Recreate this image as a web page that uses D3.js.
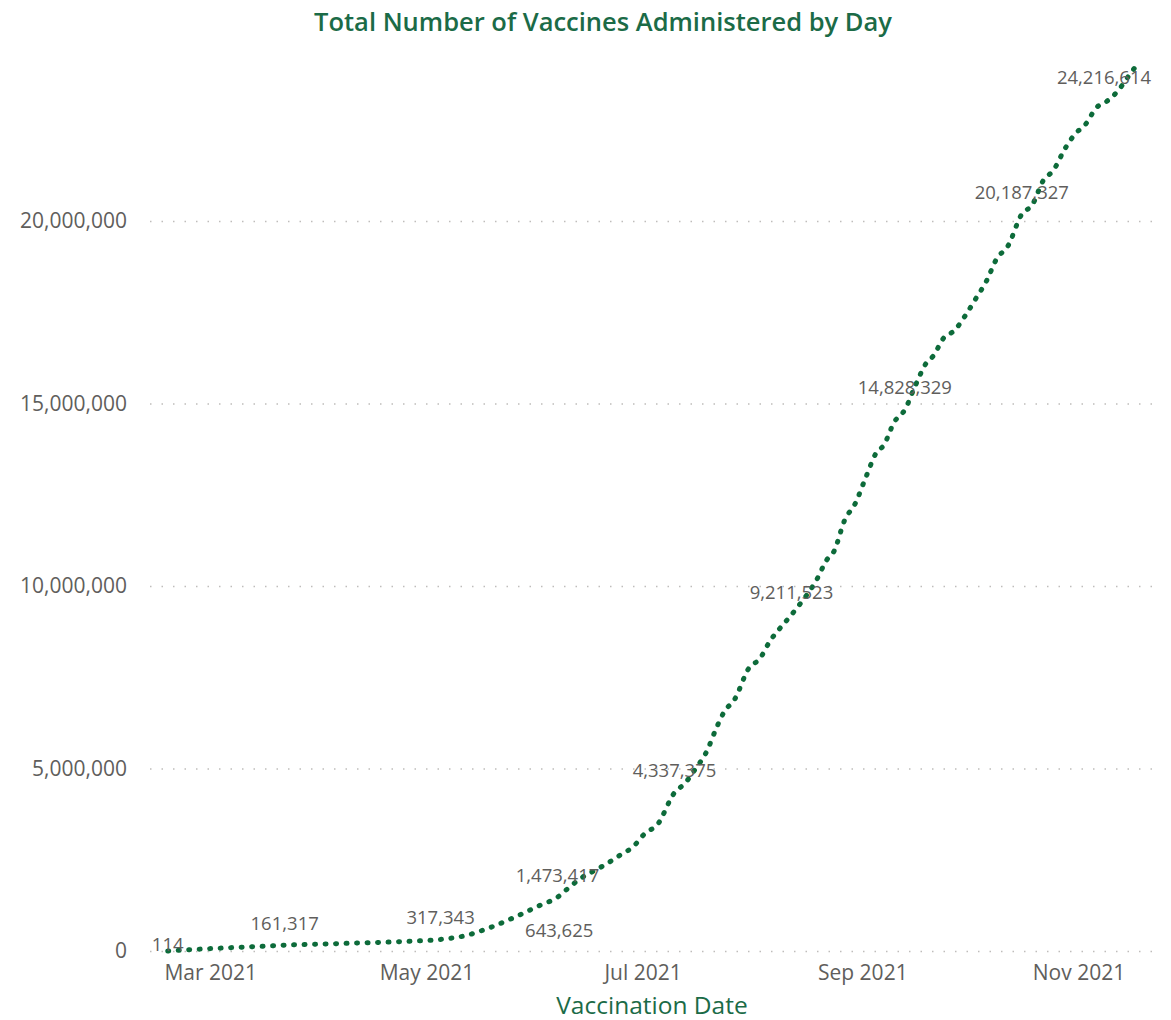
<!DOCTYPE html>
<html>
<head>
<meta charset="utf-8">
<script src="https://cdn.jsdelivr.net/npm/d3@7"></script>
<style>
  body { margin: 0; background: #fff; }
  text { font-family: "Segoe UI", "Open Sans", sans-serif; }
</style>
</head>
<body>
<svg id="chart" width="1171" height="1020"></svg>
<script>
// Cumulative vaccines
const dates = [
  "2021-02-17", "2021-02-24", "2021-03-03", "2021-03-10", "2021-03-17", "2021-03-22",
  "2021-03-29", "2021-04-05", "2021-04-12", "2021-04-19", "2021-04-26", "2021-05-05",
  "2021-05-12", "2021-05-19", "2021-05-26", "2021-06-02", "2021-06-07", "2021-06-10",
  "2021-06-14", "2021-06-18", "2021-06-21", "2021-06-25", "2021-06-28", "2021-07-02",
  "2021-07-05", "2021-07-10", "2021-07-13", "2021-07-16", "2021-07-19", "2021-07-22",
  "2021-07-24", "2021-07-27", "2021-07-31", "2021-08-03", "2021-08-06", "2021-08-09",
  "2021-08-12", "2021-08-15", "2021-08-19", "2021-08-22", "2021-08-24", "2021-08-27",
  "2021-08-30", "2021-09-02", "2021-09-05", "2021-09-07", "2021-09-10", "2021-09-13",
  "2021-09-16", "2021-09-19", "2021-09-21", "2021-09-24", "2021-09-27", "2021-09-30",
  "2021-10-03", "2021-10-06", "2021-10-09", "2021-10-12", "2021-10-16", "2021-10-19",
  "2021-10-22", "2021-10-25", "2021-10-28", "2021-10-31", "2021-11-03", "2021-11-06",
  "2021-11-09", "2021-11-12", "2021-11-15", "2021-11-17"
];
const totals = [
  114, 40000, 75000, 105000, 135000, 161317,
  180000, 200000, 220000, 240000, 265000, 317343,
  420000, 643625, 930000, 1250000, 1473417, 1720000,
  2020000, 2230000, 2400000, 2650000, 2830000, 3250000,
  3440000, 4337375, 4600000, 5000000, 5450000, 6150000,
  6550000, 6900000, 7750000, 8000000, 8500000, 8870000,
  9211523, 9580000, 10150000, 10720000, 10950000, 11800000,
  12260000, 12980000, 13660000, 13850000, 14490000, 14828329,
  15500000, 16100000, 16300000, 16800000, 17000000, 17400000,
  17870000, 18350000, 18980000, 19300000, 20187327, 20450000,
  21100000, 21400000, 21950000, 22380000, 22650000, 23100000,
  23280000, 23550000, 23950000, 24216614
];
const labelDates = [
  "2021-02-17", "2021-03-22", "2021-05-05", "2021-05-19", "2021-06-07",
  "2021-07-10", "2021-08-12", "2021-09-13", "2021-10-16", "2021-11-17"
];
const yTicks = [0, 5000000, 10000000, 15000000, 20000000];
const xTicks = ["2021-03-01", "2021-05-01", "2021-07-01", "2021-09-01", "2021-11-01"];

const parse = d3.timeParse("%Y-%m-%d");
const data = dates.map((d, i) => ({ date: parse(d), key: d, value: totals[i] }));

const svg = d3.select("#chart");
const plotLeft = 150, plotRight = 1160, plotBottom = 951;

const x = d3.scaleTime()
  .domain([parse("2021-02-12"), parse("2021-11-24")])
  .range([plotLeft, plotRight]);
const y = d3.scaleLinear()
  .domain([0, 25000000])
  .range([plotBottom, plotBottom - 25 * 36.5]);

// Title
svg.append("text")
  .attr("x", 603).attr("y", 31)
  .attr("text-anchor", "middle")
  .attr("fill", "#1b6b47")
  .attr("font-size", 25.5)
  .attr("font-weight", 600)
  .text("Total Number of Vaccines Administered by Day");

// Gridlines + y labels
const yAxis = svg.append("g")
  .attr("transform", `translate(${plotLeft},0)`)
  .call(d3.axisLeft(y).tickValues(yTicks).tickFormat(d3.format(","))
    .tickSize(-(plotRight - plotLeft)).tickPadding(23));
yAxis.select(".domain").remove();
yAxis.selectAll("line")
  .attr("stroke", "#bfbdbb")
  .attr("stroke-width", 1.5)
  .attr("stroke-dasharray", "1.5 10");
yAxis.selectAll("text")
  .attr("fill", "#605e5c")
  .attr("font-size", 21);

// X axis
const xAxis = svg.append("g")
  .attr("transform", `translate(0,${plotBottom})`)
  .call(d3.axisBottom(x).tickValues(xTicks.map(parse)).tickFormat(d3.timeFormat("%b %Y")).tickSize(0));
xAxis.select(".domain").remove();
xAxis.selectAll("text")
  .attr("y", 29).attr("dy", 0)
  .attr("fill", "#605e5c")
  .attr("font-size", 21);

svg.append("text")
  .attr("x", 652).attr("y", 1014)
  .attr("text-anchor", "middle")
  .attr("fill", "#1b6b47")
  .attr("font-size", 24.5)
  .text("Vaccination Date");

// Dotted line
const line = d3.line()
  .x(d => x(d.date))
  .y(d => y(d.value))
  .curve(d3.curveMonotoneX);

svg.append("path")
  .datum(data)
  .attr("d", line)
  .attr("fill", "none")
  .attr("stroke", "#0d6b3a")
  .attr("stroke-width", 5)
  .attr("stroke-linecap", "round")
  .attr("stroke-dasharray", "1 9.5");

// Data labels (above the point unless noted)
const special = {
  "2021-02-17": { dx: 0, dy: -6 },
  "2021-05-19": { dx: 69, dy: 3 },
  "2021-11-17": { dx: 0, dy: 10 }
};
const labels = data.filter(d => labelDates.includes(d.key));
svg.append("g").selectAll("text")
  .data(labels)
  .enter()
  .append("text")
  .attr("x", d => {
    const o = special[d.key] || { dx: 0 };
    return Math.min(x(d.date) + o.dx, 1104);
  })
  .attr("y", d => y(d.value) + (special[d.key] || { dy: -22 }).dy)
  .attr("dy", "0.35em")
  .attr("text-anchor", "middle")
  .attr("fill", "#605e5c")
  .attr("font-size", 18.5)
  .text(d => d3.format(",")(d.value));
</script>
</body>
</html>
